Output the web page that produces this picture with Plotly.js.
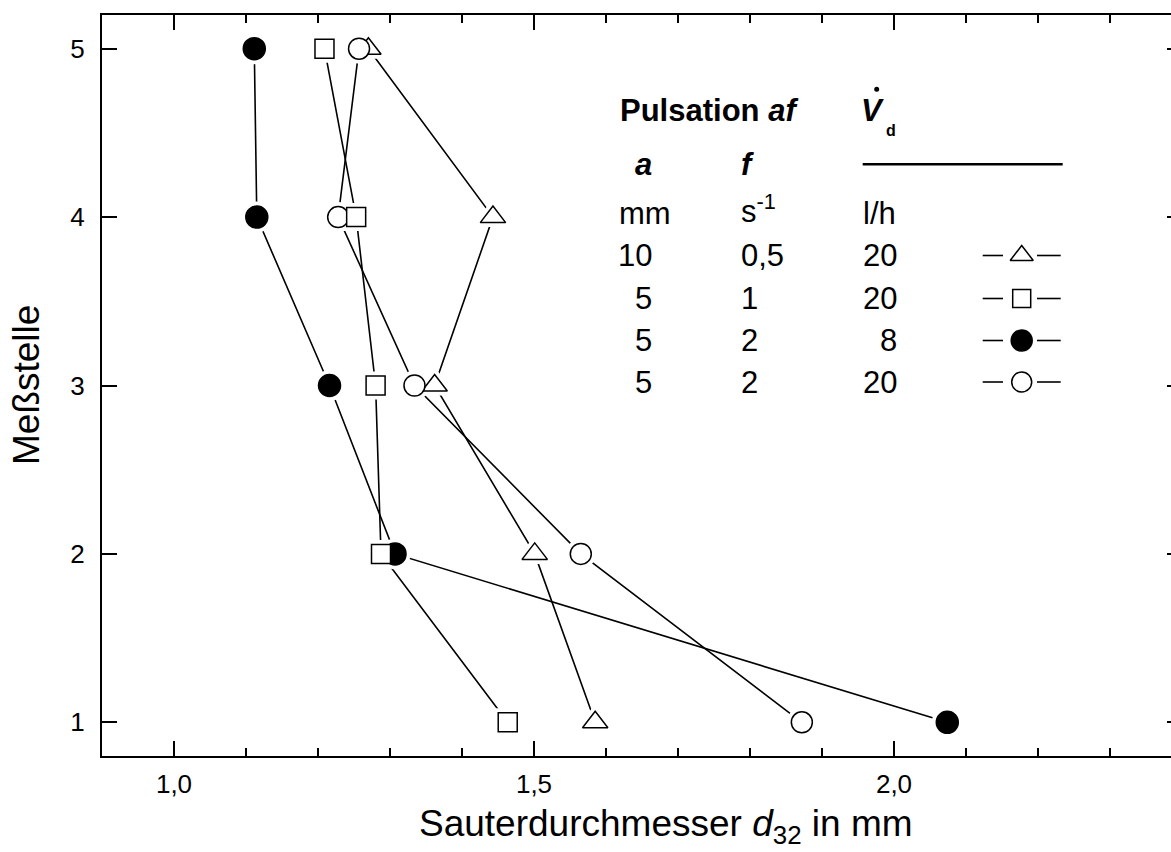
<!DOCTYPE html>
<html>
<head>
<meta charset="utf-8">
<script src="https://cdn.plot.ly/plotly-3.0.1.min.js"></script>
<style>
html,body{margin:0;padding:0;overflow:hidden;background:#fff;}
#chart{width:1200px;height:852px;}
</style>
</head>
<body>
<div id="chart"></div>
<script>
// ---- data ----
const positions = [1, 2, 3, 4, 5];                 // Meßstelle
const d32_a10_f05_V20 = [1.585, 1.501, 1.362, 1.443, 1.270]; // triangle
const d32_a5_f1_V20   = [1.4635, 1.2875, 1.280, 1.253, 1.209]; // square
const d32_a5_f2_V8    = [2.074, 1.307, 1.216, 1.115, 1.1115]; // filled circle
const d32_a5_f2_V20   = [1.872, 1.565, 1.334, 1.228, 1.257]; // open circle

const xTickVals = [1.0, 1.5, 2.0];
const xTickText = ['1,0', '1,5', '2,0'];
const xMinorVals = [1.1, 1.2, 1.3, 1.4, 1.6, 1.7, 1.8, 1.9, 2.1, 2.2, 2.3];
const yTickVals = [1, 2, 3, 4, 5];
const yTickText = ['1', '2', '3', '4', '5'];

// legend table
const colA = ['10', '5', '5', '5'];
const colF = ['0,5', '1', '2', '2'];
const colV = ['20', '20', '8', '20'];

// ---- styles ----
const FONT = 'Liberation Sans, Arial, Helvetica, sans-serif';
const series = [
  {y: d32_a10_f05_V20, symbol: 'triangle-up', size: 22, fill: '#ffffff', legSize: 20},
  {y: d32_a5_f1_V20,   symbol: 'square',      size: 19, fill: '#ffffff', legSize: 18},
  {y: d32_a5_f2_V8,    symbol: 'circle',      size: 22, fill: '#000000', legSize: 21},
  {y: d32_a5_f2_V20,   symbol: 'circle',      size: 21, fill: '#ffffff', legSize: 20}
];
const drawOrder = [0, 2, 3, 1];

const traces = [];
// connecting lines
series.forEach(s => traces.push({
  x: s.y, y: positions, mode: 'lines', type: 'scatter',
  line: {color: '#000', width: 1.6}, hoverinfo: 'skip', showlegend: false
}));
// white halos (gap between line and marker)
drawOrder.forEach(i => { const s = series[i]; traces.push({
  x: s.y, y: positions, mode: 'markers', type: 'scatter',
  marker: {symbol: s.symbol, size: s.size, color: '#fff', line: {color: '#fff', width: 9}},
  hoverinfo: 'skip', showlegend: false
}); });
// markers
drawOrder.forEach(i => { const s = series[i]; traces.push({
  x: s.y, y: positions, mode: 'markers', type: 'scatter',
  marker: {symbol: s.symbol, size: s.size, color: s.fill, opacity: 1, line: {color: '#000', width: 1.5}},
  showlegend: false
}); });

// ---- pixel layout helpers ----
const L = 102, PW = 1080, T = 15, B = 756;
const px = v => (v - L) / PW;          // pixel -> paper x
const py = v => (B - v) / (B - T);     // pixel -> paper y

// legend key geometry (pixel coords on overlay axes)
const rowY = [255.5, 298.5, 340.5, 382];
const keyX = 1021.7;
series.forEach((s, i) => traces.push({
  x: [keyX], y: [rowY[i]], xaxis: 'x2', yaxis: 'y2',
  mode: 'markers', type: 'scatter', cliponaxis: false, hoverinfo: 'skip', showlegend: false,
  marker: {symbol: s.symbol, size: s.legSize, color: s.fill, opacity: 1, line: {color: '#000', width: 1.5}}
}));

const shapes = [];
rowY.forEach(y => {
  shapes.push({type: 'line', xref: 'x2', yref: 'y2', x0: 982.7, x1: 1003, y0: y, y1: y, line: {color: '#000', width: 1.6}});
  shapes.push({type: 'line', xref: 'x2', yref: 'y2', x0: 1037, x1: 1060.7, y0: y, y1: y, line: {color: '#000', width: 1.6}});
});
shapes.push({type: 'line', xref: 'x2', yref: 'y2', x0: 862.7, x1: 1062.7, y0: 164.3, y1: 164.3, line: {color: '#000', width: 2.6}});
shapes.push({type: 'circle', xref: 'x2', yref: 'y2', x0: 874.2, x1: 879.2, y0: 86.8, y1: 91.8, fillcolor: '#000', line: {width: 0}});

const TF = 31;
function ann(text, x, y, xanchor, size, extra) {
  return Object.assign({text: text, x: px(x), y: py(y), xref: 'paper', yref: 'paper', xanchor: xanchor, yanchor: 'middle',
    showarrow: false, font: {family: FONT, size: size || TF, color: '#000'}}, extra || {});
}
const annotations = [
  ann('<b>Pulsation <i>af</i></b>', 618, 110.7, 'left'),
  ann('<b><i>V</i></b>', 859, 110.7, 'left'),
  ann('<b>d</b>', 884, 130, 'left', 16),
  ann('<b><i>a</i></b>', 654, 164, 'right'),
  ann('<b><i>f</i></b>', 739, 164, 'left'),
  ann('mm', 617, 213.3, 'left'),
  ann('s<sup>-1</sup>', 739, 209, 'left'),
  ann('l/h', 861, 213.3, 'left')
];
colA.forEach((t, i) => annotations.push(ann(t, 654, rowY[i], 'right')));
colF.forEach((t, i) => annotations.push(ann(t, 739, rowY[i], 'left')));
colV.forEach((t, i) => annotations.push(ann(t, 899, rowY[i], 'right')));
// axis titles
annotations.push(ann('Sauterdurchmesser <i>d</i><sub>32</sub> in mm', 666, 826, 'center', 37));
annotations.push(ann('Meßstelle', 26, 385, 'center', 37, {textangle: -90}));

const axisCommon = {
  showline: true, linecolor: '#000', linewidth: 2.2, mirror: 'ticks',
  ticks: 'inside', ticklen: 15, tickwidth: 2, tickcolor: '#000',
  showgrid: false, zeroline: false, fixedrange: true,
  tickfont: {family: FONT, size: 26, color: '#000'}, tickmode: 'array'
};

const layout = {
  width: 1200, height: 852,
  margin: {l: L, r: 1200 - L - PW, t: T, b: 852 - B},
  paper_bgcolor: '#fff', plot_bgcolor: '#fff',
  showlegend: false,
  xaxis: Object.assign({}, axisCommon, {
    range: [0.9, 2.4], tickvals: xTickVals, ticktext: xTickText, ticklabelstandoff: 4,
    minor: {tickmode: 'array', tickvals: xMinorVals, ticks: 'inside', ticklen: 8, tickwidth: 2, tickcolor: '#000', showgrid: false}
  }),
  yaxis: Object.assign({}, axisCommon, {
    range: [0.8, 5.2], tickvals: yTickVals, ticktext: yTickText, ticklabelstandoff: 10
  }),
  xaxis2: {overlaying: 'x', anchor: 'y2', range: [L, L + PW], visible: false, fixedrange: true},
  yaxis2: {overlaying: 'y', anchor: 'x2', range: [B, T], visible: false, fixedrange: true},
  shapes: shapes,
  annotations: annotations,
  font: {family: FONT, color: '#000'}
};

Plotly.newPlot('chart', traces, layout, {displayModeBar: false, staticPlot: true});
</script>
</body>
</html>
